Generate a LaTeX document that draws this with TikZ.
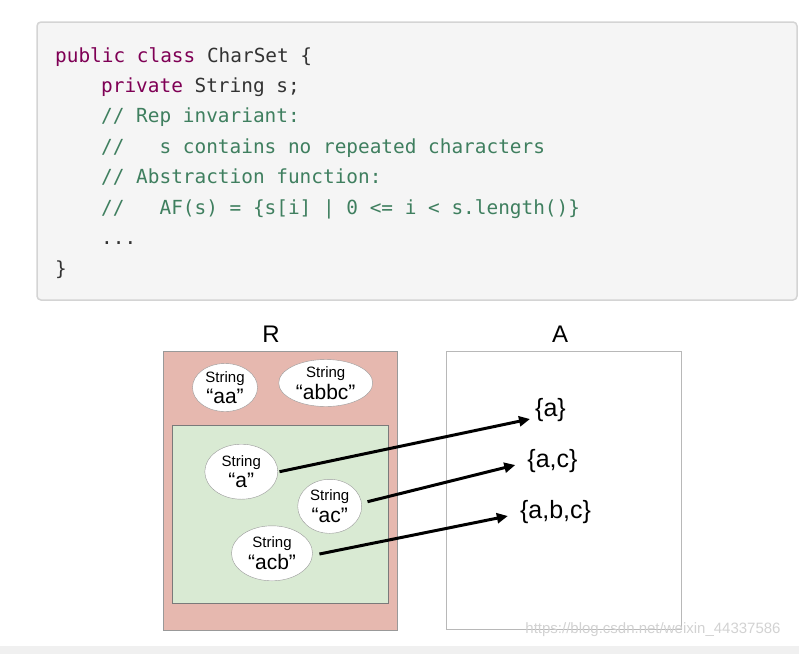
\documentclass[tikz,border=0pt]{standalone}
\usepackage{fontspec}
\setmainfont{Liberation Sans}
\setmonofont{DejaVu Sans Mono}
\usepackage{tikz}
\usetikzlibrary{shapes.geometric}
\usetikzlibrary{arrows.meta}

\definecolor{kwred}{HTML}{7F0055}
\definecolor{cmtgreen}{HTML}{3F7F5F}
\definecolor{codegray}{HTML}{333333}
\definecolor{boxfill}{HTML}{F5F5F5}
\definecolor{boxline}{HTML}{D4D4D4}
\definecolor{repfill}{HTML}{E6B8AF}
\definecolor{okfill}{HTML}{D9EAD3}
\definecolor{setline}{HTML}{999999}

\newcommand{\kw}[1]{\textcolor{kwred}{#1}}
\newcommand{\cmt}[1]{\textcolor{cmtgreen}{#1}}
\newcommand{\strval}[1]{{\fontsize{15}{17}\selectfont String}\\[3pt]{\fontsize{21}{21}\selectfont “#1”}}

\begin{document}
\begin{tikzpicture}[x=1pt, y=-1pt,
		code/.style={anchor=base west, inner sep=0pt, text=codegray, font=\fontsize{19.4}{23}\ttfamily},
		strobj/.style={ellipse, draw=setline, fill=white, inner sep=0pt},
		strtxt/.style={align=center, inner sep=0pt},
		setlbl/.style={inner sep=0pt, font=\fontsize{25}{28}\selectfont},
		mapsto/.style={-{Triangle[length=11pt, width=10pt]}, line width=3pt}]
	\useasboundingbox (0,0) rectangle (799,654);
	
	% --- 代码框 ---
	\draw[fill=boxfill, draw=boxline, line width=1.5pt, rounded corners=4pt] (37,22) rectangle (797,300);
	\node[code] (l1) at (55,62)  {\kw{public} \kw{class} CharSet \{};
	\node[code] (l2) at (101,92) {\kw{private} String s;};
	\node[code] (l3) at (101,122) {\cmt{// Rep invariant:}};
	\node[code] (l4) at (101,153) {\cmt{//\ \ \ s contains no repeated characters}};
	\node[code] (l5) at (101,183) {\cmt{// Abstraction function:}};
	\node[code] (l6) at (101,214) {\cmt{//\ \ \ AF(s) = \{s[i] | 0 <= i < s.length()\}}};
	\node[code] (l7) at (101,244) {...};
	\node[code] (l8) at (55,275)  {\}};
	
	% --- 左边：表示空间 R ---
	\node[font=\fontsize{24}{24}\selectfont] (rlbl) at (271,334) {R};
	\draw[fill=repfill, draw=setline] (163,351) rectangle (397,630);
	\draw[fill=okfill, draw=setline!80!black] (172,425) rectangle (388,603);
	
	% 不满足 RI 的值
	\node[strobj, minimum width=65, minimum height=48, label={[strtxt]center:{\strval{aa}}}] (saa) at (225,387.5) {};
	\node[strobj, minimum width=94, minimum height=47, label={[strtxt]center:{\strval{abbc}}}] (sabbc) at (325.7,383) {};
	
	% 满足 RI 的值
	\node[strobj, minimum width=73, minimum height=55, label={[strtxt]center:{\strval{a}}}] (sa) at (241.3,471.7) {};
	\node[strobj, minimum width=64, minimum height=54, label={[strtxt]center:{\strval{ac}}}] (sac) at (329.7,506.3) {};
	\node[strobj, minimum width=81, minimum height=55, label={[strtxt]center:{\strval{acb}}}] (sacb) at (272,553.3) {};
	
	% --- 右边：抽象空间 A ---
	\node[font=\fontsize{24}{24}\selectfont] (albl) at (560,334) {A};
	\draw[fill=white, draw=setline!70] (446,351) rectangle (681,629);
	
	\node[setlbl] (seta) at (550.5,410) {\{a\}};
	\node[setlbl] (setac) at (552.5,461) {\{a,c\}};
	\node[setlbl] (setabc) at (555.5,512) {\{a,b,c\}};
	
	% 抽象函数 AF
	\draw[mapsto] ([xshift=1.5]sa.east) -- ([shift={(-5,9)}]seta.west);
	\draw[mapsto] ([shift={(5.6,-4.6)}]sac.east) -- ([shift={(-12,4)}]setac.west);
	\draw[mapsto] ([shift={(6.7,0.7)}]sacb.east) -- ([shift={(-12,4)}]setabc.west);
	
	% 水印与底栏
	\node[text=gray!35, font=\fontsize{15}{15}\selectfont] (wm) at (653,630) {https://blog.csdn.net/weixin\_44337586};
	\fill[gray!12] (0,646) rectangle (799,654);
\end{tikzpicture}
\end{document}
